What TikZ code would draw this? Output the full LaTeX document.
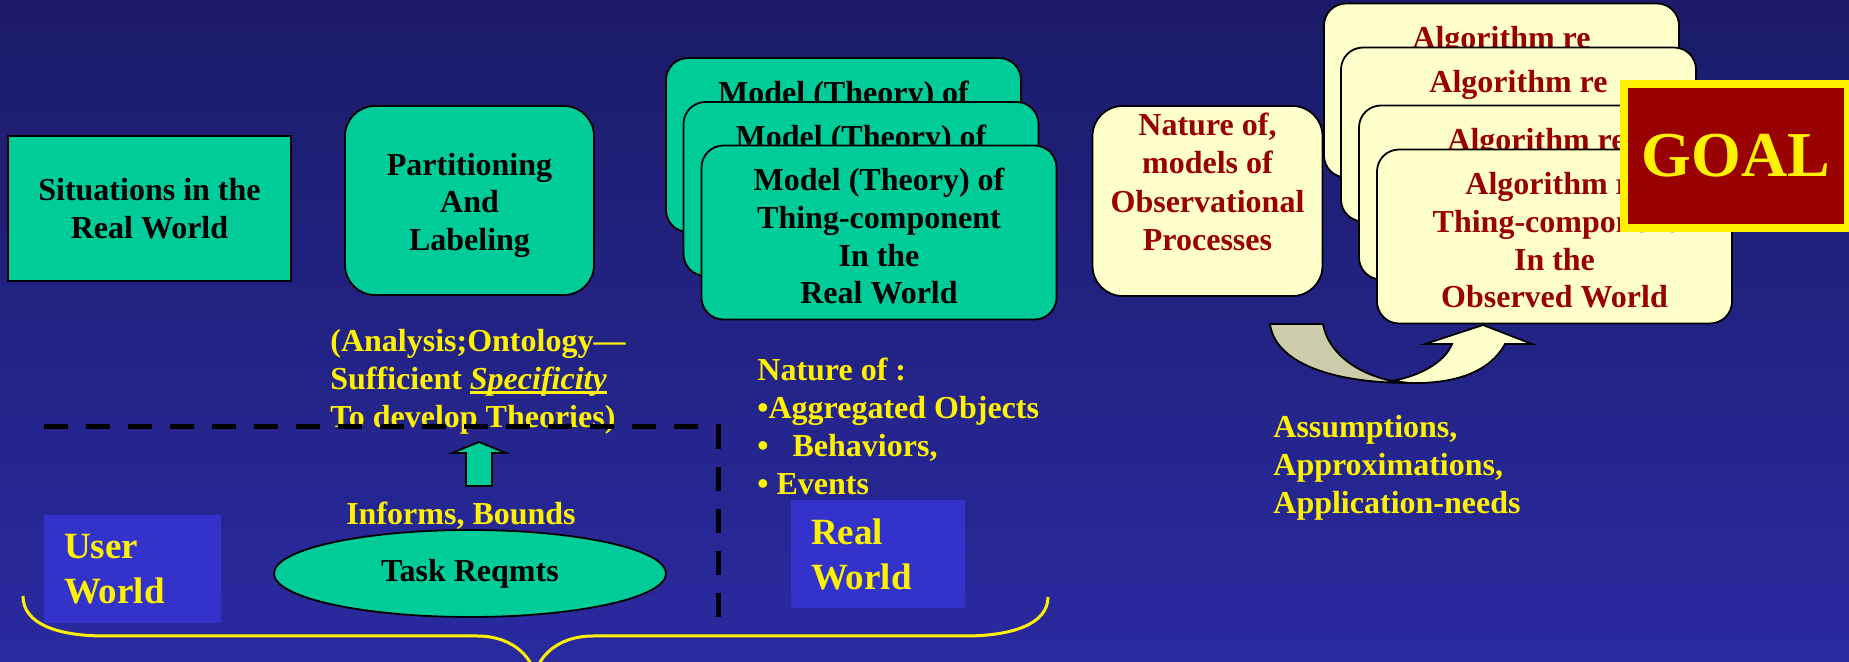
\documentclass[tikz,border=0pt]{standalone}
\usepackage{fontspec}
\setmainfont{Liberation Serif}
\usepackage{tikz}
\usetikzlibrary{shapes.geometric}
\definecolor{bgtop}{RGB}{27,27,105}
\definecolor{bgbottom}{RGB}{42,42,160}
\definecolor{thinggreen}{RGB}{0,204,153}
\definecolor{obscream}{RGB}{255,255,204}
\definecolor{obsred}{RGB}{153,0,0}
\definecolor{worldblue}{RGB}{51,51,204}
\definecolor{turnkhaki}{RGB}{204,204,170}
\newcommand{\yline}[1]{\leavevmode\setbox0=\hbox{#1}\rlap{\rule[-2pt]{\wd0}{1.5pt}}\box0}
\newcommand{\modeltext}{\rule{0pt}{15pt}Model (Theory) of\\Thing-component\\In the\\Real World}
\newcommand{\algotext}{\rule{0pt}{15pt}Algorithm re\\Thing-component\\In the\\Observed World}

\begin{document}
\begin{tikzpicture}[
    x=0.5pt, y=-0.5pt,
    greenbox/.style={rectangle, draw, line width=0.9pt, fill=thinggreen, align=center, font=\bfseries\fontsize{16}{18.9}\selectfont},
    stackbox/.style={greenbox, rounded corners=11pt, minimum width=177.5pt, minimum height=87pt},
    algobox/.style={stackbox, fill=obscream, text=obsred},
    worldbox/.style={rectangle, fill=worldblue, text=yellow, align=left, inner xsep=10pt, font=\bfseries\fontsize{18.5}{22.5}\selectfont},
    note/.style={inner sep=0pt, text=yellow, align=left, font=\bfseries\fontsize{16}{19}\selectfont},
    turnarrow/.style={draw, line width=0.9pt}
]
    \useasboundingbox (0,0) rectangle (1849,662);
    \shade[top color=bgtop, bottom color=bgbottom] (0,0) rectangle (1849,662);

    % real world side
    \node[greenbox, minimum width=141.5pt, minimum height=72.5pt] (situations) at (149.5,208.5) {Situations in the\\Real World};
    \node[greenbox, rounded corners=15pt, minimum width=124.5pt, minimum height=94.5pt] (partition) at (469.5,200.5) {\rule{0pt}{16pt}Partitioning\\And\\Labeling};
    \node[stackbox] (model1) at (843.5,145) {\modeltext};
    \node[stackbox] (model2) at (861,189) {\modeltext};
    \node[stackbox] (model3) at (879,232.5) {\modeltext};

    % observed world side
    \node[greenbox, fill=obscream, rounded corners=15pt, minimum width=115pt, minimum height=95pt] (nature) at (1207.5,201) {};
    \node[greenbox, draw=none, fill=none, text=obsred, inner sep=0pt, font=\bfseries\fontsize{16}{19.25}\selectfont] (naturetext) at (1207.5,182) {Nature of,\\models of\\Observational\\Processes};
    \node[algobox] (algo1) at (1501.5,90.5) {\algotext};
    \node[algobox] (algo2) at (1518.5,134.5) {\algotext};
    \node[algobox] (algo3) at (1536.5,192.5) {\algotext};
    \node[algobox] (algo4) at (1554.5,236.5) {\algotext};
    \node[rectangle, draw=yellow, line width=4pt, fill=obsred, text=yellow, minimum width=112pt, minimum height=72pt, font=\bfseries\fontsize{32}{38}\selectfont] (goal) at (1736,156) {GOAL};

    \draw[turnarrow, fill=turnkhaki] (1270,324) -- (1323,324) .. controls (1328,352) and (1355,373) .. (1392,381) -- (1410,383) .. controls (1330,383) and (1275,362) .. (1270,324) -- cycle;
    \draw[turnarrow, fill=obscream] (1392,381) .. controls (1420,376) and (1445,362) .. (1452,344) -- (1425,344) -- (1483,325) -- (1532,344) -- (1505,344) .. controls (1490,372) and (1455,384) .. (1410,383) -- cycle;

    % user world
    \node[note, anchor=north west] (analysis) at (330,329) {(Analysis;Ontology—\\Sufficient \yline{\textit{Specificity}}\\To develop Theories)};
    \draw[line width=0.9pt, fill=thinggreen] (466,486) -- (466,453) -- (452,453) -- (479,442) -- (506,453) -- (492,453) -- (492,486) -- cycle;
    \node[note, anchor=base] (informs) at (461,525) {Informs, Bounds};
    \node[ellipse, draw, line width=0.9pt, fill=thinggreen, minimum width=196pt, minimum height=43.5pt, inner sep=0pt, font=\bfseries\fontsize{16}{19.25}\selectfont] (task) at (470,573.5) {Task Reqmts};
    \node[worldbox, minimum width=88.5pt, minimum height=54pt, text width=68.5pt] (userworld) at (132.5,569) {User\\World};
    \draw[line width=2.5pt, dash pattern=on 12pt off 9pt] (44,427) -- (718,427) -- (718,617);

    \node[note, anchor=north west] (natureof) at (757,358) {Nature of :\\•Aggregated Objects\\•\ \ \ Behaviors,\\• Events};
    \node[worldbox, minimum width=87pt, minimum height=54pt, text width=67pt] (realworld) at (878,554) {Real\\World};
    \node[note, anchor=north west] (assumptions) at (1273,415) {Assumptions,\\Approximations,\\Application-needs};

    % brace
    \draw[yellow, line width=1.5pt] (23,596) .. controls (23,625) and (60,636) .. (105,636) -- (477,636) .. controls (515,636) and (535,660) .. (535,680);
    \draw[yellow, line width=1.5pt] (1048,597) .. controls (1048,625) and (1010,636) .. (965,636) -- (593,636) .. controls (555,636) and (535,660) .. (535,680);
\end{tikzpicture}
\end{document}
